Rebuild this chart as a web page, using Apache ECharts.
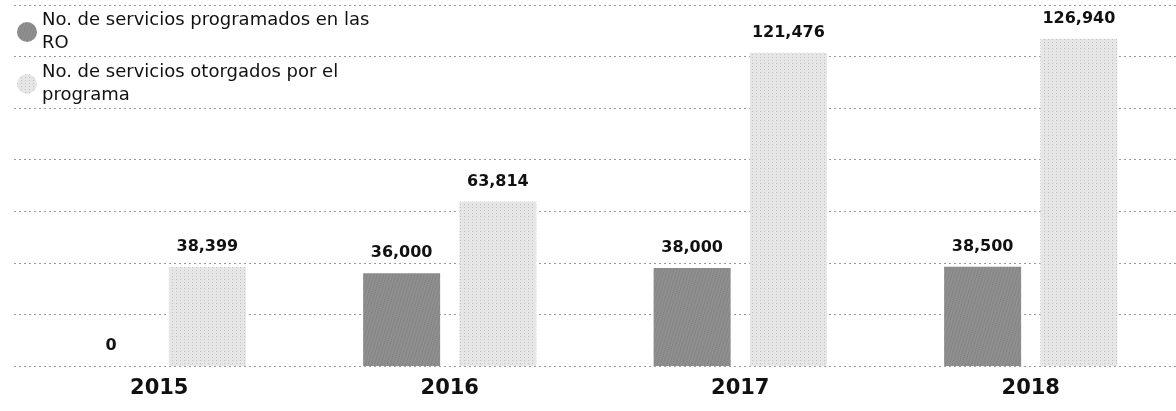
<!DOCTYPE html>
<html>
<head>
<meta charset="utf-8">
<script src="https://cdn.jsdelivr.net/npm/echarts@6/dist/echarts.min.js"></script>
<style>
html,body{margin:0;padding:0;background:#fff;}
#chart{width:1176px;height:411px;}
</style>
</head>
<body>
<div id="chart"></div>
<script>
const categories = ['2015', '2016', '2017', '2018'];
const seriesNames = ['No. de servicios programados en las\nRO', 'No. de servicios otorgados por el\nprograma'];
const programados = [0, 36000, 38000, 38500];
const otorgados = [38399, 63814, 121476, 126940];

const fmt = v => Number(v.value).toLocaleString('en-US');

const chart = echarts.init(document.getElementById('chart'), null, {renderer: 'canvas'});
const labelStyle = {
  show: true, position: 'top', distance: 12,
  fontFamily: 'DejaVu Sans', fontWeight: 'bold', fontSize: 16, color: '#111',
  formatter: fmt
};
chart.setOption({
  animation: false,
  backgroundColor: '#fff',
  legend: {
    orient: 'vertical', left: 12, top: 4,
    icon: 'circle', itemWidth: 20, itemHeight: 20, itemGap: 6,
    textStyle: {fontFamily: 'DejaVu Sans', fontSize: 18, lineHeight: 23, color: '#111'},
    data: seriesNames
  },
  grid: {left: 14, right: 0, top: 5, bottom: 45, containLabel: false},
  xAxis: {
    type: 'category', data: categories,
    axisLine: {show: false}, axisTick: {show: false},
    axisLabel: {fontFamily: 'DejaVu Sans', fontWeight: 'bold', fontSize: 21, color: '#111', margin: 12}
  },
  yAxis: {
    type: 'value', min: 0, max: 140000, interval: 20000,
    axisLabel: {show: false}, axisLine: {show: false}, axisTick: {show: false},
    splitLine: {show: true, lineStyle: {type: [2, 3], color: '#9a9a9a', width: 1}}
  },
  series: [
    {
      name: seriesNames[0], type: 'bar', data: programados,
      barWidth: 77, barGap: '25%',
      itemStyle: {color: '#8f8f8f', decal: {symbol: 'rect', symbolSize: 0.7, color: 'rgba(30,30,30,0.5)', dashArrayX: [[1, 2]], dashArrayY: [1, 1], rotation: 0.3}},
      label: labelStyle
    },
    {
      name: seriesNames[1], type: 'bar', data: otorgados,
      barWidth: 77,
      itemStyle: {color: '#e6e6e6', decal: {symbol: 'rect', symbolSize: 0.7, color: 'rgba(50,50,50,0.55)', dashArrayX: [[1, 3]], dashArrayY: [1, 2]}},
      label: labelStyle
    }
  ]
});
</script>
</body>
</html>
